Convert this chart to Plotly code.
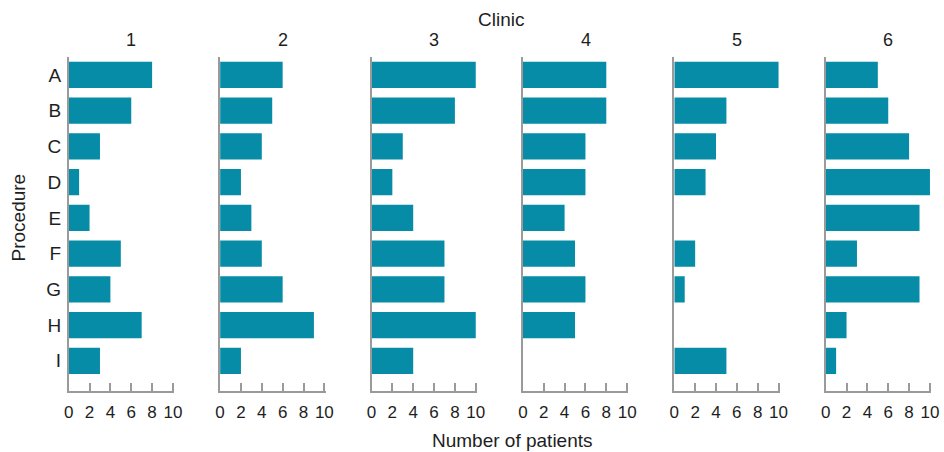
import plotly.graph_objects as go

# Patients per procedure, one panel per clinic
procedures = ["A", "B", "C", "D", "E", "F", "G", "H", "I"]
clinics = ["1", "2", "3", "4", "5", "6"]
patients = {
    "1": [8, 6, 3, 1, 2, 5, 4, 7, 3],
    "2": [6, 5, 4, 2, 3, 4, 6, 9, 2],
    "3": [10, 8, 3, 2, 4, 7, 7, 10, 4],
    "4": [8, 8, 6, 6, 4, 5, 6, 5, 0],
    "5": [10, 5, 4, 3, 0, 2, 1, 0, 5],
    "6": [5, 6, 8, 10, 9, 3, 9, 2, 1],
}
x_ticks = [0, 2, 4, 6, 8, 10]

W, H = 944, 452
BAR = "#078ca7"
AXIS = "#9a9a9a"
FONT = "Liberation Sans, Arial, sans-serif"
TXT = "#1e1e1e"

x_max = 10.12
left0, step, pw = 68.7, 151.4, 105.5   # panel left edge, spacing, width (px)
top, bottom = 57, 390.5                # panel vertical extent (px)

fig = go.Figure()
layout = {}
for i, c in enumerate(clinics):
    n = "" if i == 0 else str(i + 1)
    x0 = left0 + step * i
    fig.add_trace(go.Bar(
        x=patients[c], y=procedures, orientation="h",
        marker=dict(color=BAR, line=dict(width=0)),
        xaxis="x" + n, yaxis="y" + n, showlegend=False,
    ))
    layout["xaxis" + n] = dict(
        domain=[x0 / W, (x0 + pw) / W], anchor="y" + n, automargin=False,
        range=[0, x_max], tickvals=x_ticks, ticks="inside", ticklen=8,
        tickcolor=AXIS, tickwidth=1.5, showline=True, linecolor=AXIS,
        linewidth=1.5, showgrid=False, zeroline=False,
        tickfont=dict(family=FONT, size=17, color=TXT), ticklabelstandoff=5,
        fixedrange=True,
    )
    layout["yaxis" + n] = dict(
        domain=[(H - bottom) / H, (H - top) / H], anchor="x" + n,
        automargin=False,
        type="category", categoryorder="array", categoryarray=procedures,
        range=[8.83, -0.5], showline=True, linecolor=AXIS, linewidth=1.5,
        showgrid=False, zeroline=False, ticks="",
        showticklabels=(i == 0), ticklabelstandoff=2,
        tickfont=dict(family=FONT, size=19, color=TXT), fixedrange=True,
    )
    fig.add_annotation(
        x=(x0 + pw / 2 + 10) / W, y=(H - 39.5) / H, xref="paper", yref="paper",
        text=c, showarrow=False, font=dict(family=FONT, size=18, color=TXT),
        xanchor="center", yanchor="middle",
    )

fig.add_annotation(x=501 / W, y=(H - 20) / H, xref="paper", yref="paper",
                   text="Clinic", showarrow=False,
                   font=dict(family=FONT, size=19, color=TXT),
                   xanchor="center", yanchor="middle")
fig.add_annotation(x=512 / W, y=(H - 440) / H, xref="paper", yref="paper",
                   text="Number of patients", showarrow=False,
                   font=dict(family=FONT, size=19, color=TXT),
                   xanchor="center", yanchor="middle")
fig.add_annotation(x=18 / W, y=(H - 217.5) / H, xref="paper", yref="paper",
                   text="Procedure", showarrow=False, textangle=-90,
                   font=dict(family=FONT, size=19, color=TXT),
                   xanchor="center", yanchor="middle")

fig.update_layout(
    width=W, height=H, margin=dict(l=0, r=0, t=0, b=0, pad=0),
    paper_bgcolor="white", plot_bgcolor="white", bargap=0.27,
    **layout,
)
fig.write_html("out.html")
